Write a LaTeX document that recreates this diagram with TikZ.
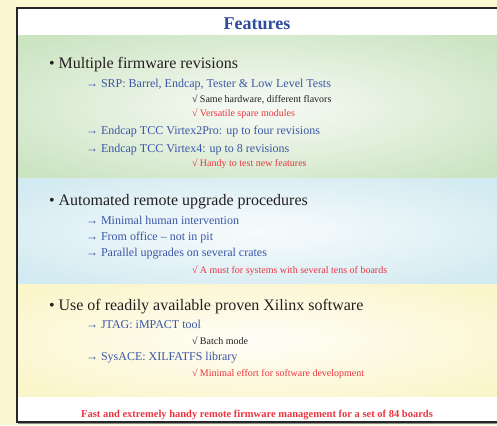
\documentclass[tikz,border=0pt]{standalone}
\usepackage{fontspec}
\setmainfont{Liberation Serif}
\definecolor{pageyellow}{HTML}{FBF7D0}
\definecolor{bandgreen}{HTML}{CDE4C3}
\definecolor{bandblue}{HTML}{D2EAF1}
\definecolor{bandyellow}{HTML}{FBF5CA}
\definecolor{txtblue}{HTML}{3B56A5}
\definecolor{titleblue}{HTML}{2D4C9C}
\definecolor{txtred}{HTML}{EC3440}
\definecolor{txtblack}{HTML}{231F20}
\pgfdeclareradialshading{glowgreen}{\pgfpoint{0bp}{0bp}}{color(0bp)=(bandgreen!20!white); color(6bp)=(bandgreen!30!white); color(32bp)=(bandgreen); color(50bp)=(bandgreen)}
\pgfdeclareradialshading{glowblue}{\pgfpoint{0bp}{0bp}}{color(0bp)=(bandblue!20!white); color(6bp)=(bandblue!30!white); color(32bp)=(bandblue); color(50bp)=(bandblue)}
\pgfdeclareradialshading{glowyellow}{\pgfpoint{0bp}{0bp}}{color(0bp)=(bandyellow!20!white); color(6bp)=(bandyellow!30!white); color(32bp)=(bandyellow); color(50bp)=(bandyellow)}
\tikzset{
  txt/.style={anchor=base west, inner sep=0pt, outer sep=0pt},
  bulletitem/.style={txt, font=\fontsize{16}{18}\selectfont, text=txtblack},
  arrowitem/.style={txt, font=\fontsize{12}{14}\selectfont, text=txtblue},
  checkblack/.style={txt, font=\fontsize{10}{12}\selectfont, text=txtblack},
  checkred/.style={txt, font=\fontsize{10}{12}\selectfont, text=txtred},
}
\begin{document}
\begin{tikzpicture}[x=1pt,y=-1pt]
\useasboundingbox (0,0) rectangle (497,425);
\fill[pageyellow] (0,0) rectangle (497,425);
% frame background
\fill[white] (17,8) rectangle (500,422);
% bands
\shade[shading=glowgreen] (18,36) rectangle (500,178);
\shade[shading=glowblue] (18,178) rectangle (500,284);
\shade[shading=glowyellow] (18,284) rectangle (500,396);
% frame
\draw[line width=1.6pt, draw=black!85] (17,8) rectangle (502,422);
\draw[line width=0.6pt, draw=black!45] (18,423.5) -- (502,423.5);

% title
\node[anchor=base, inner sep=0pt, font=\fontsize{18}{20}\selectfont\bfseries, text=titleblue] (title) at (257,29.3) {Features};

% section 1
\node[bulletitem] (b1) at (49,69) {• Multiple firmware revisions};
\node[arrowitem] (a11) at (86,87.3) {→ SRP: Barrel, Endcap, Tester \& Low Level Tests};
\node[checkblack] (c11) at (192,102.5) {√ Same hardware, different flavors};
\node[checkred] (c12) at (192,116.2) {√ Versatile spare modules};
\node[arrowitem] (a12) at (86,134.3) {→ Endcap TCC Virtex2Pro: up to four revisions};
\node[arrowitem] (a13) at (86,152.7) {→ Endcap TCC Virtex4: up to 8 revisions};
\node[checkred] (c13) at (192,166.7) {√ Handy to test new features};

% section 2
\node[bulletitem] (b2) at (49,205) {• Automated remote upgrade procedures};
\node[arrowitem] (a21) at (86,224) {→ Minimal human intervention};
\node[arrowitem] (a22) at (86,240.7) {→ From office – not in pit};
\node[arrowitem] (a23) at (86,256.7) {→ Parallel upgrades on several crates};
\node[checkred] (c21) at (192,273.3) {√ A must for systems with several tens of boards};

% section 3
\node[bulletitem] (b3) at (49,310.7) {• Use of readily available proven Xilinx software};
\node[arrowitem] (a31) at (86,328.3) {→ JTAG: iMPACT tool};
\node[checkblack] (c31) at (192,344.3) {√ Batch mode};
\node[arrowitem] (a32) at (86,360.7) {→ SysACE: XILFATFS library};
\node[checkred] (c32) at (192,376.3) {√ Minimal effort for software development};

% footer
\node[anchor=base, inner sep=0pt, font=\fontsize{10.5}{12}\selectfont\bfseries, text=txtred] (foot) at (257,417.3) {Fast and extremely handy remote firmware management for a set of 84 boards};
\end{tikzpicture}
\end{document}
